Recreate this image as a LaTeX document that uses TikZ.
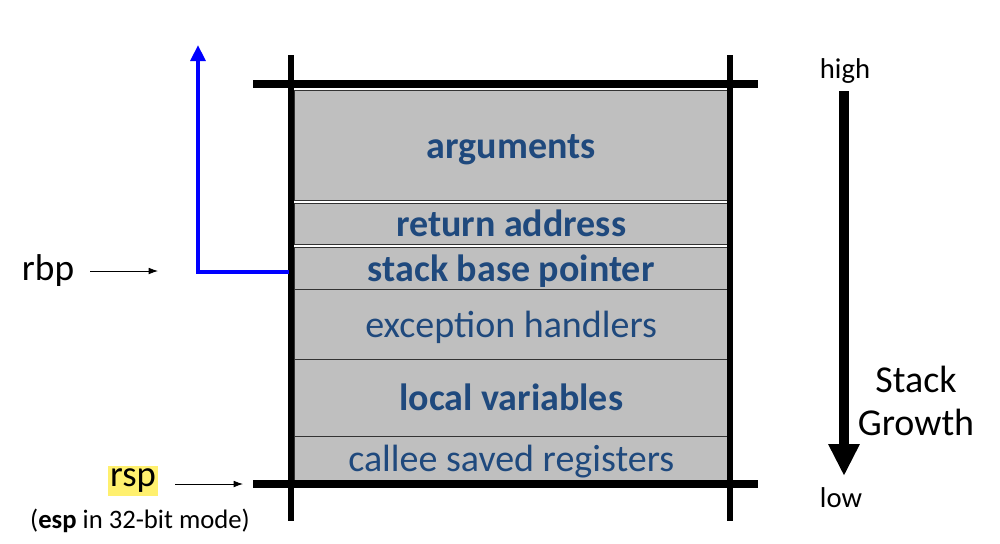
\documentclass[tikz,border=0pt]{standalone}
\usepackage{fontspec}
\setmainfont{Carlito}
\usetikzlibrary{arrows.meta}
\definecolor{boxgray}{RGB}{191,191,191}
\definecolor{boxtext}{RGB}{31,73,125}
\definecolor{hl}{RGB}{255,240,110}
\definecolor{ptrblue}{RGB}{0,0,255}
\tikzset{
  cell/.style={fill=boxgray, draw=black!80, line width=0.8pt, minimum width=325pt, anchor=north west, inner sep=0pt, text=boxtext, text height=20.5pt, text depth=1.4pt, font=\fontsize{28.5}{32}\selectfont},
  boldcell/.style={cell, font=\fontsize{28.5}{32}\selectfont\bfseries},
  thickbar/.style={line width=6.5pt},
  label/.style={font=\fontsize{22}{26}\selectfont, inner sep=0pt},
}
\begin{document}
\begin{tikzpicture}[x=0.75pt,y=-0.75pt]
\useasboundingbox (0,0) rectangle (1000,543);
% cells
\node[boldcell, minimum height=82.5pt] (args) at (294,90) {arguments};
\node[boldcell, minimum height=31pt] (ret) at (294,203) {return address};
\node[boldcell, minimum height=31.5pt] (sbp) at (294,247) {stack base pointer};
\node[cell, minimum height=52.5pt] (exc) at (294,289) {exception handlers};
\node[boldcell, minimum height=57.75pt] (loc) at (294,359) {local variables};
\node[cell, minimum height=33pt] (cal) at (294,436) {callee saved registers};
% frame
\coordinate (tl) at (253,84); \coordinate (tr) at (758,84);
\coordinate (bl) at (253,484); \coordinate (br) at (758,484);
\coordinate (lt) at (291,55); \coordinate (lb) at (291,521);
\coordinate (rt) at (730,55); \coordinate (rb) at (730,521);
\draw[thickbar] (tl) -- (tr);
\draw[thickbar] (bl) -- (br);
\draw[line width=4.5pt] (lt) -- (lb);
\draw[line width=4.5pt] (rt) -- (rb);
% rbp
\node[label, font=\fontsize{28}{30}\selectfont] (rbp) at (48,271) {rbp};
\coordinate (rbpa) at (90,271); \coordinate (rbpb) at (158,271);
\draw[-{Latex[length=7pt,width=5pt]}, line width=0.6pt] (rbpa) -- (rbpb);
\coordinate (bstart) at (289,272); \coordinate (bcorner) at (198,272); \coordinate (btop) at (198,45);
\draw[ptrblue, line width=3pt, -{Triangle[length=12pt,width=11pt]}] (bstart) -- (bcorner) -- (btop);
% rsp
\node[label, fill=hl, inner xsep=1.5pt, inner ysep=2pt, font=\fontsize{27.5}{30}\selectfont] (rsp) at (133,481) {rsp};
\node[label, font=\fontsize{20}{22}\selectfont] (esp) at (140,521) {(\textbf{esp} in 32-bit mode)};
\coordinate (rspa) at (175,484); \coordinate (rspb) at (243,484);
\draw[-{Latex[length=7pt,width=5pt]}, line width=0.6pt] (rspa) -- (rspb);
% growth
\node[label, font=\fontsize{21.5}{24}\selectfont] (high) at (845,71) {high};
\node[label, font=\fontsize{21.5}{24}\selectfont] (low) at (841,498) {low};
\coordinate (ga) at (844,91); \coordinate (gb) at (844,476);
\draw[line width=7pt, -{Triangle[length=24pt,width=22pt]}] (ga) -- (gb);
\node[label, align=center, font=\fontsize{28.5}{32}\selectfont] (sg) at (916,401) {Stack\\Growth};
\end{tikzpicture}
\end{document}
